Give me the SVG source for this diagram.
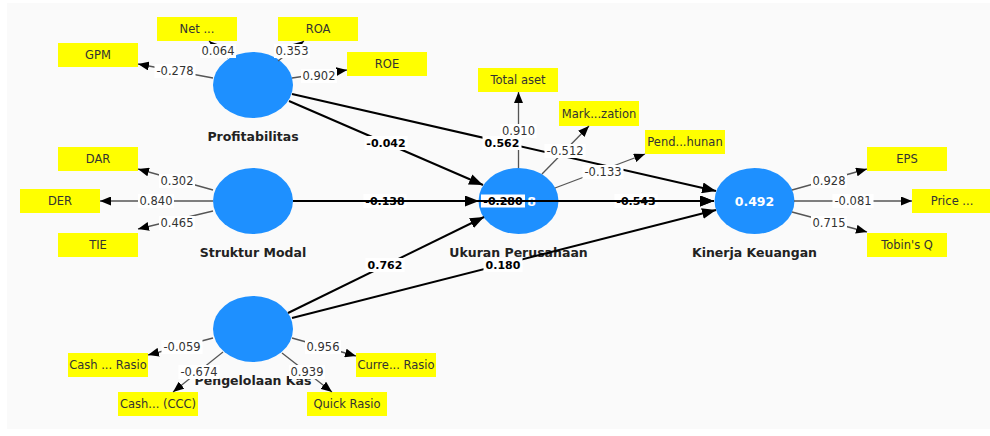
<svg xmlns="http://www.w3.org/2000/svg" width="990" height="436" viewBox="0 0 990 436">
<style>
.ind rect{fill:#ffff00}
.ind text{font-family:"DejaVu Sans",sans-serif;font-size:11.5px;fill:#333;text-anchor:middle}
.lv{fill:#1e90ff}
.nl{font-family:"DejaVu Sans",sans-serif;font-size:12.5px;font-weight:bold;fill:#222;text-anchor:middle}
.r2{font-family:"DejaVu Sans",sans-serif;font-size:12.5px;font-weight:bold;fill:#fff;text-anchor:middle}
.ol{stroke:#555;stroke-width:1.3;fill:none;marker-end:url(#ao)}
.il{stroke:#000;stroke-width:2;fill:none;marker-end:url(#ai)}
.lb{fill:#fff}
.lt{font-family:"DejaVu Sans",sans-serif;font-size:11.5px;fill:#333;text-anchor:middle}
.pt{font-family:"DejaVu Sans",sans-serif;font-size:11px;font-weight:bold;fill:#000;text-anchor:middle}
</style>
<defs>
<marker id="ao" markerUnits="userSpaceOnUse" markerWidth="11" markerHeight="9" refX="11" refY="4.5" orient="auto"><path d="M0,0 L11,4.5 L0,9 z" fill="#000"/></marker>
<marker id="ai" markerUnits="userSpaceOnUse" markerWidth="14" markerHeight="11" refX="14" refY="5.5" orient="auto"><path d="M0,0 L14,5.5 L0,11 z" fill="#000"/></marker>
</defs>
<rect x="0" y="0" width="990" height="436" fill="#fff"/>
<rect x="7" y="3" width="983" height="426" fill="#fafafa"/>

<g id="nodes">
<g id="profitabilitas"><ellipse class="lv" cx="253" cy="85" rx="40" ry="33"/><text class="nl" x="253" y="141">Profitabilitas</text></g>
<g id="struktur-modal"><ellipse class="lv" cx="253" cy="201" rx="40" ry="33"/><text class="nl" x="253" y="257">Struktur Modal</text></g>
<g id="ukuran-perusahaan"><ellipse class="lv" cx="518.5" cy="201" rx="40" ry="33"/><text class="r2" x="531.5" y="205.5">8</text><text class="nl" x="518.5" y="257">Ukuran Perusahaan</text></g>
<g id="kinerja-keuangan"><ellipse class="lv" cx="754.5" cy="201" rx="40" ry="33"/><text class="r2" x="754.5" y="205.5">0.492</text><text class="nl" x="754.5" y="257">Kinerja Keuangan</text></g>
<g id="pengelolaan-kas"><ellipse class="lv" cx="253" cy="329" rx="40" ry="33"/><text class="nl" x="253" y="385">Pengelolaan Kas</text></g>
</g>

<g id="indicators" class="ind">
<g id="ind-net"><rect x="157" y="17" width="80" height="24"/><text x="197" y="33">Net ...</text></g>
<g id="ind-roa"><rect x="278" y="17" width="80" height="24"/><text x="318" y="33">ROA</text></g>
<g id="ind-gpm"><rect x="58" y="43" width="80" height="24"/><text x="98" y="59">GPM</text></g>
<g id="ind-roe"><rect x="347" y="52" width="80" height="24"/><text x="387" y="68">ROE</text></g>
<g id="ind-dar"><rect x="58" y="147" width="80" height="24"/><text x="98" y="163">DAR</text></g>
<g id="ind-der"><rect x="20" y="189" width="80" height="24"/><text x="60" y="205">DER</text></g>
<g id="ind-tie"><rect x="58" y="233" width="80" height="24"/><text x="98" y="249">TIE</text></g>
<g id="ind-total"><rect x="478" y="68" width="80" height="24"/><text x="518" y="84">Total aset</text></g>
<g id="ind-mark"><rect x="559" y="101" width="80" height="25"/><text x="599" y="117.5">Mark...zation</text></g>
<g id="ind-pend"><rect x="645" y="130" width="80" height="24"/><text x="685" y="146">Pend...hunan</text></g>
<g id="ind-eps"><rect x="867" y="147" width="80" height="24"/><text x="907" y="163">EPS</text></g>
<g id="ind-price"><rect x="912" y="189" width="80" height="24"/><text x="952" y="205">Price ...</text></g>
<g id="ind-tobin"><rect x="867" y="233" width="80" height="24"/><text x="907" y="249">Tobin's Q</text></g>
<g id="ind-cashr"><rect x="68" y="353" width="80" height="24"/><text x="108" y="369">Cash ... Rasio</text></g>
<g id="ind-ccc"><rect x="118" y="392" width="80" height="24"/><text x="158" y="408">Cash... (CCC)</text></g>
<g id="ind-curre"><rect x="356" y="353" width="80" height="24"/><text x="396" y="369">Curre... Rasio</text></g>
<g id="ind-quick"><rect x="307" y="392" width="80" height="24"/><text x="347" y="408">Quick Rasio</text></g>
</g>

<g id="connectors">
<line class="ol" x1="213" y1="78" x2="138" y2="64"/>
<line class="ol" x1="228" y1="58" x2="209" y2="41"/>
<line class="ol" x1="278" y1="61" x2="304" y2="41"/>
<line class="ol" x1="292" y1="78" x2="347" y2="70"/>
<line class="ol" x1="213" y1="190" x2="138" y2="169"/>
<line class="ol" x1="213" y1="201" x2="100" y2="201"/>
<line class="ol" x1="213" y1="211" x2="138" y2="229"/>
<line class="ol" x1="518.5" y1="168" x2="518.5" y2="92"/>
<line class="ol" x1="542" y1="174" x2="589" y2="126"/>
<line class="ol" x1="555" y1="188" x2="645" y2="154"/>
<line class="ol" x1="792" y1="190" x2="867" y2="169"/>
<line class="ol" x1="794" y1="201" x2="912" y2="201"/>
<line class="ol" x1="792" y1="212" x2="867" y2="232"/>
<line class="ol" x1="213" y1="338" x2="148" y2="355"/>
<line class="ol" x1="223" y1="352" x2="173" y2="392"/>
<line class="ol" x1="292" y1="338" x2="356" y2="356"/>
<line class="ol" x1="282" y1="353" x2="332" y2="392"/>

<line class="il" x1="289" y1="101" x2="483" y2="185"/>
<line class="il" x1="292" y1="94" x2="716" y2="191"/>
<line class="il" x1="288" y1="313" x2="484" y2="217"/>
<line class="il" x1="292" y1="318" x2="716" y2="210"/>

<g id="loading-labels">
<rect class="lb" x="154.5" y="64" width="41" height="14"/><text class="lt" x="175" y="75">-0.278</text>
<rect class="lb" x="200" y="44" width="36" height="14"/><text class="lt" x="218" y="55">0.064</text>
<rect class="lb" x="274" y="44" width="36" height="14"/><text class="lt" x="292" y="55">0.353</text>
<rect class="lb" x="301" y="69" width="36" height="14"/><text class="lt" x="319" y="80">0.902</text>
<rect class="lb" x="159" y="174" width="36" height="14"/><text class="lt" x="177" y="185">0.302</text>
<rect class="lb" x="138" y="194" width="36" height="14"/><text class="lt" x="156" y="205">0.840</text>
<rect class="lb" x="159" y="216" width="36" height="14"/><text class="lt" x="177" y="227">0.465</text>
<rect class="lb" x="500.5" y="124" width="36" height="14"/><text class="lt" x="518.5" y="135">0.910</text>
<rect class="lb" x="544.5" y="144" width="41" height="14"/><text class="lt" x="565" y="155">-0.512</text>
<rect class="lb" x="582.5" y="165" width="41" height="14"/><text class="lt" x="603" y="176">-0.133</text>
<rect class="lb" x="811" y="174" width="36" height="14"/><text class="lt" x="829" y="185">0.928</text>
<rect class="lb" x="832.5" y="194" width="41" height="14"/><text class="lt" x="853" y="205">-0.081</text>
<rect class="lb" x="811" y="216" width="36" height="14"/><text class="lt" x="829" y="227">0.715</text>
<rect class="lb" x="161.5" y="340" width="41" height="14"/><text class="lt" x="182" y="351">-0.059</text>
<rect class="lb" x="178.5" y="365" width="41" height="14"/><text class="lt" x="199" y="376">-0.674</text>
<rect class="lb" x="305" y="340" width="36" height="14"/><text class="lt" x="323" y="351">0.956</text>
<rect class="lb" x="289" y="365" width="36" height="14"/><text class="lt" x="307" y="376">0.939</text>
</g>

<g id="path-labels">
<rect class="lb" x="364.5" y="136" width="43" height="14"/><text class="pt" x="386" y="147">-0.042</text>
<rect class="lb" x="482.5" y="136" width="39" height="14"/><text class="pt" x="502" y="147">0.562</text>
<rect class="lb" x="363.5" y="194" width="43" height="14"/><text class="pt" x="385" y="205">-0.138</text>
<rect class="lb" x="481" y="194.5" width="44" height="13"/><text class="pt" x="503" y="205">-0.280</text>
<rect class="lb" x="614.5" y="194" width="43" height="14"/><text class="pt" x="636" y="205">-0.543</text>
<rect class="lb" x="365.5" y="258" width="39" height="14"/><text class="pt" x="385" y="269">0.762</text>
<rect class="lb" x="483.5" y="258" width="39" height="14"/><text class="pt" x="503" y="269">0.180</text>
</g>

<line class="il" x1="293" y1="201" x2="479" y2="201"/>
<line class="il" x1="558" y1="201" x2="714" y2="201"/>
<line class="il" x1="293" y1="201" x2="714" y2="201"/>
</g>
</svg>
